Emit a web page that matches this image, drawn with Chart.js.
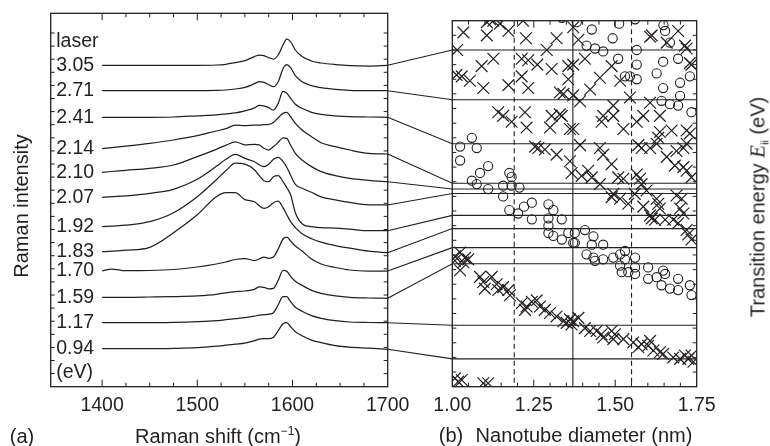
<!DOCTYPE html>
<html>
<head>
<meta charset="utf-8">
<script src="https://cdn.jsdelivr.net/npm/chart.js@4.4.1/dist/chart.umd.min.js"></script>
<style>
  html, body { margin: 0; padding: 0; background: #fff; }
  #wrap { position: relative; width: 770px; height: 446px; overflow: hidden;
          font-family: "Liberation Sans", Arial, Helvetica, sans-serif; color: #231f20; }
  #wrap canvas { position: absolute; left: 0; top: 0; }
  .lbl { position: absolute; font-size: 20px; line-height: 1; white-space: nowrap; transform: translate(-50%, -50%); }
  .rot { transform: translate(-50%, -50%) rotate(-90deg); }
  .sup { position: relative; top: -8px; font-size: 12px; }
  .sub { position: relative; top: 4px; font-size: 11px; }
  .ital { font-family: "Liberation Serif", "Times New Roman", serif; font-style: italic; font-size: 21px; }
</style>
</head>
<body>
<div id="wrap">
  <canvas id="raman" width="770" height="446"></canvas>
  <canvas id="kataura" width="770" height="446"></canvas>
  <div class="lbl rot" style="left:21px; top:206px">Raman intensity</div>
  <div class="lbl" style="left:22px; top:436px">(a)</div>
  <div class="lbl" style="left:218px; top:436px">Raman shift (cm<span class="sup">−1</span>)</div>
  <div class="lbl" style="left:451px; top:435px">(b)</div>
  <div class="lbl" style="left:584px; top:435px">Nanotube diameter (nm)</div>
  <div class="lbl rot" style="left:758px; top:207px">Transition energy <span class="ital">E</span><span class="sub">ii</span> (eV)</div>
</div>
<script>
const INK = "#231f20";
const FONT = '"Liberation Sans", Arial, Helvetica, sans-serif';

// ---- panel (a): Raman spectra, one per laser energy ----
const LASER_EV = [3.05, 2.71, 2.41, 2.14, 2.10, 2.07, 1.92, 1.83, 1.70, 1.59, 1.17, 0.94];
// vertical offset of each trace (arbitrary intensity units)
const OFFSETS = [321.4, 296, 269.4, 238, 214.4, 189.4, 160, 135, 115.7, 89.4, 64, 38];
const RAMAN_SHIFT = [1400, 1410, 1425, 1450, 1475, 1500, 1520, 1530, 1540, 1550, 1560, 1565, 1570,
  1575, 1580, 1585, 1590, 1594, 1598, 1603, 1610, 1620, 1630, 1645, 1660, 1680, 1700];

const S_305 = [0, 0, 0, 0, 0, 0, 0.3, 1, 2.7, 4.7, 8.7, 10.3, 9.7, 7.7, 6.3, 10.3, 20.3, 26.3, 23.7, 15.3, 8.7, 4.3, 2.3, 0.7, -0.3, -0.7, 0];
const S_271 = [0, 0, 0, 0, 0, 0, 0.3, 0.7, 1.7, 3.3, 7, 9, 8.3, 6, 4, 9, 22, 26, 23, 15, 9, 5, 3, 1.3, 0.3, 0, 0];
const S_241 = [0, 0, 0, 0, 0.3, 1.5, 2.5, 3.5, 4.5, 6.5, 9.5, 12, 11.5, 9.5, 7.3, 14, 26, 24, 19, 13, 9, 5, 3, 1.5, 0.7, 0.3, 0];
const S_214 = [0, 1, 2.5, 5.3, 8.7, 13, 17.7, 20, 23.5, 23, 23.5, 23.5, 24, 24.3, 26.3, 31, 35.3, 36.3, 32, 25.3, 18.7, 12, 6, 2, -1.3, -4.7, -5.3];
const S_210 = [0, 0.8, 2, 4, 7.3, 15.7, 23, 27, 30.5, 27.5, 28, 27.5, 24, 22.3, 25.7, 30, 34.5, 34, 27, 19, 12.3, 5.7, 0.7, -3.3, -6, -8, -9.4];
const S_207 = [0, 0.6, 1.5, 4, 8, 18, 31, 38, 43, 39, 35.6, 32.5, 30.6, 33, 38, 40, 36, 30, 22, 13, 9, 5, 0.5, -2.5, -5, -7.5, -7.7];
const S_192 = [0, 0.6, 1.5, 5, 14, 30, 47, 56, 63.5, 62.5, 57, 51, 46, 45, 50, 51, 45, 39, 32, 14, 3, 0, -1, -1.5, -2.5, -4, -4];
const S_183 = [0, 0.5, 1.5, 4.4, 19, 37, 55, 59, 59, 52, 50, 46, 43.4, 45, 49, 50.5, 44, 37, 30, 24, 18, 13, 9.5, 6, 3.5, 0.5, -1];
const S_170 = [0, 2, 0.3, 0.5, 1.5, 4, 7, 9, 11.5, 12.5, 10.5, 12, 14, 12.7, 14, 22, 32, 34, 30, 25, 20, 12, 7, 3.5, 1, 0, 0];
const S_159 = [0, 0, 0, 0.3, 0.7, 1.5, 3, 4.5, 5.7, 6.3, 8, 10.5, 10, 8.5, 9, 17, 27, 26, 21, 16, 12, 7, 4, 1.5, 0, -0.7, -1];
const S_117 = [0, 0, 0, 0, 0.3, 1, 2, 3, 4, 5, 6.5, 7.5, 8, 8.5, 10, 18, 26, 26, 21, 15.5, 11.5, 7, 4.3, 2, 0.7, 0.2, 0];
const S_094 = [0, 0, 0, 0, 0.3, 1, 2.5, 3.5, 4.5, 5.5, 8, 9.5, 10, 10, 11.5, 18, 25, 26, 22, 17, 13, 8.5, 6, 3, 1.5, 0.5, -0.6];
const SPECTRA = [S_305, S_271, S_241, S_214, S_210, S_207, S_192, S_183, S_170, S_159, S_117, S_094];

// ---- panel (b): Kataura plot, transition energy vs diameter ----
const DIAMETER_MARKS = [1.19, 1.37, 1.55];
const SEMICONDUCTING = [
  [1.034, 3.17], [1.106, 3.24], [1.116, 3.26], [1.126, 3.25], [1.106, 3.15], [1.146, 3.23], [1.172, 3.18],
  [1.226, 3.13], [1.320, 3.13], [1.217, 3.25], [1.015, 3.05], [1.126, 2.99], [1.090, 2.94], [1.290, 3.05],
  [1.213, 2.99], [1.233, 2.98], [1.261, 2.95], [1.305, 2.92], [1.013, 2.88], [1.029, 2.87], [1.054, 2.84],
  [1.095, 2.79], [1.172, 2.81], [1.213, 2.87], [1.233, 2.79], [1.330, 2.76], [1.341, 2.75], [1.356, 2.94],
  [1.356, 2.85], [1.141, 2.625], [1.156, 2.60], [1.182, 2.56], [1.223, 2.625], [1.228, 2.52], [1.300, 2.52],
  [1.330, 2.61], [1.336, 2.60], [1.361, 2.51], [1.305, 2.60],
  [1.371, 3.205], [1.387, 3.12], [1.607, 3.14], [1.612, 3.15], [1.693, 3.18], [1.719, 3.06], [1.729, 2.96],
  [1.734, 2.95], [1.407, 2.99], [1.371, 2.95], [1.489, 2.94], [1.453, 2.86], [1.515, 2.84], [1.423, 2.78],
  [1.371, 2.74], [1.392, 2.70], [1.545, 2.725], [1.607, 2.69], [1.494, 2.67], [1.463, 2.60], [1.458, 2.56],
  [1.494, 2.60], [1.525, 2.51], [1.586, 2.60], [1.566, 2.56], [1.637, 2.49], [1.673, 2.50], [1.719, 2.50],
  [1.729, 2.48], [1.637, 2.60], [1.371, 2.51], [1.658, 3.10], [1.714, 3.08],
  [1.254, 2.39], [1.264, 2.38], [1.284, 2.37], [1.320, 2.335], [1.361, 2.29], [1.366, 2.21],
  [1.392, 2.40], [1.453, 2.38], [1.463, 2.335], [1.489, 2.27], [1.571, 2.40], [1.581, 2.38], [1.607, 2.38],
  [1.627, 2.41], [1.632, 2.45], [1.658, 2.32], [1.688, 2.36], [1.709, 2.38], [1.719, 2.41], [1.683, 2.26],
  [1.709, 2.25], [1.719, 2.225], [1.734, 2.18], [1.397, 2.19], [1.417, 2.225], [1.428, 2.18], [1.453, 2.134],
  [1.494, 2.067], [1.489, 2.045], [1.515, 2.034], [1.509, 2.18], [1.525, 2.17], [1.566, 2.20], [1.576, 2.17],
  [1.581, 2.134], [1.540, 2.00], [1.560, 2.067], [1.596, 2.09], [1.627, 2.034], [1.632, 2.00], [1.637, 1.967],
  [1.586, 1.98], [1.607, 1.92], [1.612, 1.90], [1.622, 1.89], [1.653, 1.89], [1.688, 2.056], [1.704, 2.034],
  [1.699, 1.967], [1.709, 1.933], [1.678, 1.89], [1.693, 1.867], [1.719, 1.82], [1.724, 1.79], [1.734, 1.755],
  [1.024, 1.667], [1.039, 1.63], [1.008, 1.64], [1.008, 1.61], [1.034, 1.60], [1.049, 1.62], [1.024, 1.545],
  [1.085, 1.50], [1.095, 1.465], [1.100, 1.42], [1.121, 1.50], [1.136, 1.45], [1.141, 1.41], [1.156, 1.43],
  [1.172, 1.41], [1.177, 1.375], [1.213, 1.32], [1.228, 1.298], [1.223, 1.275], [1.244, 1.33], [1.259, 1.34],
  [1.269, 1.298], [1.284, 1.275], [1.300, 1.253], [1.320, 1.23], [1.341, 1.197], [1.351, 1.186], [1.361, 1.21],
  [1.366, 1.175], [1.371, 1.197], [1.387, 1.22], [1.407, 1.15], [1.423, 1.13], [1.443, 1.13], [1.458, 1.108],
  [1.463, 1.086], [1.489, 1.13], [1.499, 1.108], [1.494, 1.075], [1.525, 1.075], [1.555, 1.052], [1.571, 1.019],
  [1.581, 1.041], [1.601, 1.03], [1.607, 1.063], [1.617, 0.997], [1.637, 0.985], [1.647, 0.974], [1.678, 0.95],
  [1.699, 0.94], [1.714, 0.963], [1.724, 0.94], [1.734, 0.963], [1.740, 0.92],
  [1.008, 0.807], [1.018, 0.785], [1.029, 0.796], [1.095, 0.774], [1.110, 0.774],
];
const METALLIC = [
  [1.336, 3.27], [1.382, 3.24], [1.428, 3.19], [1.492, 3.13], [1.512, 3.23], [1.561, 3.26], [1.648, 3.22],
  [1.653, 3.18], [1.668, 3.10], [1.412, 3.08], [1.438, 3.06], [1.463, 3.04], [1.509, 2.99], [1.566, 3.05],
  [1.566, 2.95], [1.530, 2.87], [1.545, 2.87], [1.566, 2.85], [1.627, 2.89], [1.647, 2.97], [1.693, 2.99],
  [1.729, 2.87], [1.699, 2.826], [1.647, 2.79], [1.699, 2.737], [1.642, 2.703], [1.668, 2.68], [1.693, 2.67],
  [1.734, 2.625],
  [1.060, 2.45], [1.024, 2.39], [1.075, 2.38], [1.024, 2.295], [1.085, 2.21], [1.110, 2.257], [1.060, 2.157],
  [1.075, 2.134], [1.110, 2.10], [1.175, 2.21], [1.182, 2.183], [1.156, 2.123], [1.182, 2.123], [1.206, 2.11],
  [1.156, 2.05], [1.175, 1.956], [1.202, 1.933], [1.220, 1.98], [1.244, 2.007], [1.244, 1.893], [1.295, 1.996],
  [1.310, 1.956], [1.295, 1.90], [1.295, 1.85], [1.295, 1.80], [1.310, 1.78], [1.336, 1.893], [1.336, 1.755],
  [1.356, 1.80], [1.371, 1.733], [1.376, 1.80], [1.376, 1.733], [1.407, 1.82], [1.433, 1.777], [1.428, 1.72],
  [1.463, 1.72], [1.412, 1.654], [1.433, 1.632], [1.494, 1.632], [1.515, 1.654], [1.530, 1.677], [1.463, 1.62],
  [1.561, 1.632], [1.438, 1.61], [1.515, 1.577], [1.520, 1.532], [1.540, 1.532], [1.561, 1.565], [1.561, 1.52],
  [1.601, 1.565], [1.601, 1.487], [1.627, 1.498], [1.647, 1.543], [1.653, 1.52], [1.642, 1.443], [1.668, 1.42],
  [1.693, 1.487], [1.693, 1.41], [1.729, 1.443], [1.734, 1.376], [1.530, 1.62],
];

Chart.defaults.font.family = FONT;
Chart.defaults.font.size = 19.5;
Chart.defaults.color = INK;

function isMajor(v, step) {
  return step > 0 && Math.abs(v / step - Math.round(v / step)) < 1e-6;
}

/* frame box plus inward tick marks on all four sides */
const framePlugin = {
  id: "frame",
  afterDatasetsDraw(chart, args, opts) {
    const { ctx, chartArea: a } = chart;
    const x = chart.scales.x;
    const y = chart.scales.y;
    const seg = (x1, y1, x2, y2) => { ctx.beginPath(); ctx.moveTo(x1, y1); ctx.lineTo(x2, y2); ctx.stroke(); };
    ctx.save();
    ctx.strokeStyle = INK;
    ctx.lineWidth = 1;
    for (const t of x.ticks) {
      const px = x.getPixelForValue(t.value);
      if (px < a.left + 1 || px > a.right - 1) continue;
      const len = isMajor(t.value, opts.majorX) ? 7 : 4;
      seg(px, a.bottom, px, a.bottom - len);
      seg(px, a.top, px, a.top + len);
    }
    for (const t of y.ticks) {
      const py = y.getPixelForValue(t.value);
      if (py < a.top + 1 || py > a.bottom - 1) continue;
      const len = isMajor(t.value, opts.majorY) ? 7 : 4;
      seg(a.left, py, a.left + len, py);
      seg(a.right, py, a.right - len, py);
    }
    ctx.lineWidth = 1.3;
    ctx.strokeRect(a.left, a.top, a.right - a.left, a.bottom - a.top);
    ctx.restore();
  },
};

/* laser energy labels down the left of panel (a) */
const laserLabelPlugin = {
  id: "laserLabels",
  afterDatasetsDraw(chart) {
    const { ctx, chartArea: a, scales: { y } } = chart;
    ctx.save();
    ctx.font = `19.5px ${FONT}`;
    ctx.fillStyle = INK;
    ctx.textBaseline = "middle";
    ctx.textAlign = "left";
    const x0 = a.left + 5.5;
    LASER_EV.forEach((ev, i) => ctx.fillText(ev.toFixed(2), x0, y.getPixelForValue(OFFSETS[i])));
    ctx.fillText("laser", x0, y.getPixelForValue(OFFSETS[0]) - 24);
    ctx.fillText("(eV)", x0, y.getPixelForValue(OFFSETS[OFFSETS.length - 1]) + 24);
    ctx.restore();
  },
};

const ramanChart = new Chart(document.getElementById("raman"), {
  type: "line",
  data: {
    datasets: SPECTRA.map((s, i) => ({
      data: RAMAN_SHIFT.map((x, j) => ({ x, y: OFFSETS[i] + s[j] })),
      borderColor: INK,
      borderWidth: 1.25,
      pointRadius: 0,
      cubicInterpolationMode: "monotone",
      fill: false,
      clip: 0,
    })),
  },
  options: {
    responsive: false,
    animation: false,
    events: [],
    layout: { padding: { left: 50.7, right: 382.3, top: 13.3, bottom: 0 } },
    plugins: { legend: { display: false }, tooltip: { enabled: false }, frame: { majorX: 100, majorY: 0 } },
    scales: {
      x: {
        type: "linear", min: 1346, max: 1700,
        grid: { display: false, drawTicks: false }, border: { display: false },
        ticks: { stepSize: 25, autoSkip: false, maxRotation: 0, padding: 7,
          callback: (v) => (v % 100 === 0 ? String(v) : "") },
        afterBuildTicks: (s) => { s.ticks = s.ticks.filter((t) => t.value >= 1400); },
        afterFit: (s) => { s.height = 59.3; },
      },
      y: {
        type: "linear", min: 0, max: 373.4,
        grid: { display: false, drawTicks: false }, border: { display: false },
        ticks: { display: false, stepSize: 13.1 },
        afterFit: (s) => { s.width = 0; },
      },
    },
  },
  plugins: [framePlugin, laserLabelPlugin],
});

/* energy lines across panel (b), diameter markers, and the links from each spectrum */
const linkPlugin = {
  id: "links",
  beforeDatasetsDraw(chart) {
    const { ctx, chartArea: a, scales: { x, y } } = chart;
    const lx = ramanChart.scales.x;
    const ly = ramanChart.scales.y;
    ctx.save();
    ctx.strokeStyle = INK;
    ctx.lineWidth = 1.1;
    DIAMETER_MARKS.forEach((d, i) => {
      ctx.setLineDash(i === 1 ? [] : [5, 3.5]);
      const px = x.getPixelForValue(d);
      ctx.beginPath(); ctx.moveTo(px, a.top); ctx.lineTo(px, a.bottom); ctx.stroke();
    });
    ctx.setLineDash([]);
    const last = RAMAN_SHIFT.length - 1;
    LASER_EV.forEach((ev, i) => {
      const x0 = lx.getPixelForValue(RAMAN_SHIFT[last]);
      const y0 = ly.getPixelForValue(OFFSETS[i] + SPECTRA[i][last]);
      const yE = y.getPixelForValue(ev);
      ctx.beginPath();
      ctx.moveTo(x0, y0);
      ctx.lineTo(a.left, yE);
      ctx.lineTo(a.right, yE);
      ctx.stroke();
    });
    ctx.restore();
  },
};

new Chart(document.getElementById("kataura"), {
  type: "scatter",
  data: {
    datasets: [
      {
        data: SEMICONDUCTING.map(([x, y]) => ({ x, y })),
        pointStyle: "crossRot", pointRadius: 8.3,
        pointBorderColor: INK, pointBorderWidth: 1.2, pointBackgroundColor: "rgba(0,0,0,0)",
        clip: 0,
      },
      {
        data: METALLIC.map(([x, y]) => ({ x, y })),
        pointStyle: "circle", pointRadius: 4.6,
        pointBorderColor: INK, pointBorderWidth: 1.1, pointBackgroundColor: "rgba(0,0,0,0)",
        clip: 0,
      },
    ],
  },
  options: {
    responsive: false,
    animation: false,
    events: [],
    layout: { padding: { left: 452.3, right: 0, top: 13.3, bottom: 0 } },
    plugins: { legend: { display: false }, tooltip: { enabled: false }, frame: { majorX: 0.25, majorY: 0.5 } },
    scales: {
      x: {
        type: "linear", min: 1.0, max: 1.75,
        grid: { display: false, drawTicks: false }, border: { display: false },
        ticks: { stepSize: 0.05, autoSkip: false, maxRotation: 0, padding: 7,
          callback: (v) => (isMajor(v, 0.25) ? v.toFixed(2) : "") },
        afterFit: (s) => { s.height = 59.3; },
      },
      y: {
        type: "linear", position: "right", min: 0.75, max: 3.25,
        grid: { display: false, drawTicks: false }, border: { display: false },
        ticks: { stepSize: 0.1, autoSkip: false, padding: 9,
          callback: (v) => (isMajor(v, 0.5) ? v.toFixed(1) : "") },
        afterFit: (s) => { s.width = 73.3; },
      },
    },
  },
  plugins: [linkPlugin, framePlugin],
});
</script>
</body>
</html>
